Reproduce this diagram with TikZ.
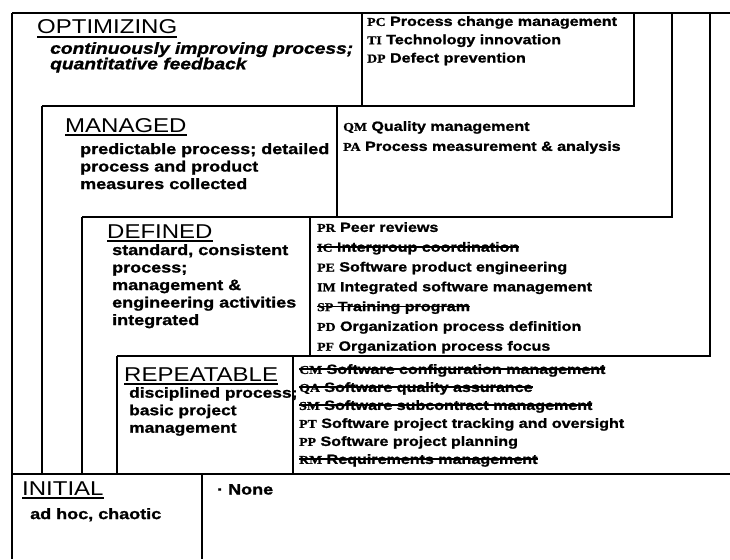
\documentclass[tikz,border=0pt]{standalone}
\usepackage{fontspec}
\setmainfont{Liberation Sans}[FakeStretch=1.2,BoldFeatures={FakeBold=1.2},BoldItalicFeatures={FakeBold=1.2}]
\newfontfamily\abbrfont{Liberation Serif}[FakeStretch=1.15,BoldFeatures={FakeBold=1.2}]
\newsavebox{\strikebox}
\newcommand{\strike}[1]{\sbox{\strikebox}{#1}\rlap{\rule[0.3em]{\wd\strikebox}{1.5pt}}\usebox{\strikebox}}
\newcommand{\kpa}[1]{{\abbrfont\bfseries\fontsize{12}{12}\selectfont #1}}

\begin{document}
\begin{tikzpicture}[x=1pt,y=-1pt,
	frame/.style={line width=2.2pt},
	uline/.style={line width=1.4pt},
	title/.style={anchor=base west,inner sep=0pt,font=\fontsize{20}{22}\selectfont},
	desc/.style={anchor=north west,inner sep=0pt,align=left,font=\fontsize{15}{17.5}\selectfont\bfseries},
	kpalist/.style={anchor=north west,inner sep=0pt,align=left,font=\fontsize{13.4}{18.3}\selectfont\bfseries}]

	\useasboundingbox (0,0) rectangle (730,559);

	% staircase frame
	\draw[frame] (12,13) -- (730,13);
	\draw[frame] (12,13) -- (12,559);
	\draw[frame] (362,13) -- (362,106);
	\draw[frame] (42,106) -- (634,106) -- (634,13);
	\draw[frame] (42,106) -- (42,474);
	\draw[frame] (337,106) -- (337,217);
	\draw[frame] (82,217) -- (672,217) -- (672,13);
	\draw[frame] (82,217) -- (82,474);
	\draw[frame] (310,217) -- (310,356);
	\draw[frame] (117,356) -- (710,356) -- (710,13);
	\draw[frame] (117,356) -- (117,474);
	\draw[frame] (293,356) -- (293,474);
	\draw[frame] (12,474) -- (730,474);
	\draw[frame] (202,474) -- (202,559);

	% optimizing
	\node[title] (opttitle) at (37,34) {OPTIMIZING};
	\node[desc,font=\fontsize{16}{15.5}\selectfont\bfseries\itshape] (optdesc) at (50,42)
		{continuously improving process;\\quantitative feedback};
	\node[kpalist] (optkpa) at (367,16)
		{\kpa{PC} Process change management\\
		 \kpa{TI} Technology innovation\\
		 \kpa{DP} Defect prevention};

	% managed
	\node[title] (mantitle) at (65,132) {MANAGED};
	\node[desc] (mandesc) at (80,143)
		{predictable process; detailed\\process and product\\measures collected};
	\node[kpalist,font=\fontsize{13.4}{20}\selectfont\bfseries] (mankpa) at (343,121)
		{\kpa{QM} Quality management\\
		 \kpa{PA} Process measurement \& analysis};

	% defined
	\node[title] (deftitle) at (107,238) {DEFINED};
	\node[desc] (defdesc) at (112,244)
		{standard, consistent\\process;\\management \&\\engineering activities\\integrated};
	\node[kpalist,font=\fontsize{13.4}{19.8}\selectfont\bfseries] (defkpa) at (317,222)
		{\kpa{PR} Peer reviews\\
		 \strike{\kpa{IC} Intergroup coordination}\\
		 \kpa{PE} Software product engineering\\
		 \kpa{IM} Integrated software management\\
		 \strike{\kpa{SP} Training program}\\
		 \kpa{PD} Organization process definition\\
		 \kpa{PF} Organization process focus};

	% repeatable
	\node[title] (reptitle) at (124,381) {REPEATABLE};
	\node[desc,font=\fontsize{14.5}{17.5}\selectfont\bfseries] (repdesc) at (129,387)
		{disciplined process;\\basic project\\management};
	\node[kpalist,font=\fontsize{13.4}{18}\selectfont\bfseries] (repkpa) at (299,364)
		{\strike{\kpa{CM} Software configuration management}\\
		 \strike{\kpa{QA} Software quality assurance}\\
		 \strike{\kpa{SM} Software subcontract management}\\
		 \kpa{PT} Software project tracking and oversight\\
		 \kpa{PP} Software project planning\\
		 \strike{\kpa{RM} Requirements management}};

	% initial
	\node[title] (inittitle) at (22,495) {INITIAL};
	\node[desc] (initdesc) at (30,508) {ad hoc, chaotic};
	\node[desc] (initkpa) at (217,484) {· None};

	% underlines
	\draw[uline] ([yshift=-3pt]opttitle.base west) -- ([yshift=-3pt]opttitle.base east);
	\draw[uline] ([yshift=-3pt]mantitle.base west) -- ([yshift=-3pt]mantitle.base east);
	\draw[uline] ([yshift=-3pt]deftitle.base west) -- ([yshift=-3pt]deftitle.base east);
	\draw[uline] ([yshift=-3pt]reptitle.base west) -- ([yshift=-3pt]reptitle.base east);
	\draw[uline] ([yshift=-3pt]inittitle.base west) -- ([yshift=-3pt]inittitle.base east);

\end{tikzpicture}
\end{document}
